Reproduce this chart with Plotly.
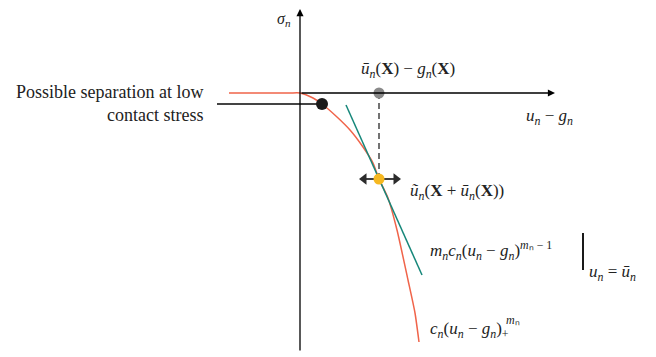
import plotly.graph_objects as go

# contact law curve (x = u_n - g_n, y = sigma_n)
curve_x = [-7.1, -3.5, -1.0, 0.0, 1.3, 2.2, 3.7, 5.0, 6.3, 7.3, 7.9, 8.8, 9.7, 10.8, 11.5, 11.9]
curve_y = [0.0, 0.0, 0.0, 0.0, -0.5, -1.1, -2.4, -3.7, -5.4, -7.0, -8.6, -10.5, -13.7, -18.7, -22.0, -24.9]

# tangent at the current iterate
tangent_x = [4.6, 12.2]
tangent_y = [-1.2, -18.2]

# marked points
sep_pt = (2.2, -1.1)
gap_pt = (7.9, 0.0)
iter_pt = (7.9, -8.6)

RED = "#F0644A"
TEAL = "#16877A"
DARK = "#2b2b2b"
FONT = "Liberation Serif"

fig = go.Figure()

fig.add_trace(go.Scatter(x=curve_x, y=curve_y, mode="lines",
                         line=dict(color=RED, width=1.5, shape="spline", smoothing=0.6)))
fig.add_trace(go.Scatter(x=tangent_x, y=tangent_y, mode="lines",
                         line=dict(color=TEAL, width=1.5)))

# separation leader line
fig.add_trace(go.Scatter(x=[-8.3, sep_pt[0]], y=[sep_pt[1], sep_pt[1]], mode="lines",
                         line=dict(color="#444", width=2)))
# dashed drop from gap point to iterate
fig.add_trace(go.Scatter(x=[gap_pt[0], iter_pt[0]], y=[gap_pt[1], iter_pt[1]], mode="lines",
                         line=dict(color="#444", width=1.5, dash="6px,4px")))

# axes drawn as arrows
ax_kw = dict(xref="x", yref="y", axref="x", ayref="y", showarrow=True, text="",
             arrowhead=2, arrowsize=1.1, arrowwidth=1.3, arrowcolor="black")
fig.add_annotation(x=0, y=8.4, ax=0, ay=-25.9, **ax_kw)
fig.add_annotation(x=25.5, y=0, ax=0, ay=0, **ax_kw)

# horizontal double arrow at the iterate
fig.add_trace(go.Scatter(x=[6.4, 9.6], y=[iter_pt[1], iter_pt[1]], mode="lines",
                         line=dict(color=DARK, width=1.8)))
fig.add_trace(go.Scatter(x=[6.4, 9.6], y=[iter_pt[1], iter_pt[1]], mode="markers",
                         marker=dict(size=10, color=DARK, symbol=["triangle-left", "triangle-right"])))

# points
fig.add_trace(go.Scatter(x=[sep_pt[0]], y=[sep_pt[1]], mode="markers",
                         marker=dict(size=12, color="#1a1a1a")))
fig.add_trace(go.Scatter(x=[gap_pt[0]], y=[gap_pt[1]], mode="markers",
                         marker=dict(size=11, color="#8a8a8a")))
fig.add_trace(go.Scatter(x=[iter_pt[0]], y=[iter_pt[1]], mode="markers",
                         marker=dict(size=11, color="#F6B821")))

# bar for evaluation "at u_n = ū_n"
fig.add_trace(go.Scatter(x=[28.3, 28.3], y=[-14.0, -17.7], mode="lines",
                         line=dict(color="#1a1a1a", width=2)))

txt = dict(xref="x", yref="y", showarrow=False, font=dict(family=FONT, size=17, color="#222"))
fig.add_annotation(x=-1.6, y=8.5, yanchor="top", text="<i>σ</i><sub><i>n</i></sub>",
                   xref="x", yref="y", showarrow=False,
                   font=dict(family=FONT, size=16, color="#222"))
fig.add_annotation(x=10.8, y=2.3,
                   text="<i>ū</i><sub><i>n</i></sub>(<b>X</b>) − <i>g</i><sub><i>n</i></sub>(<b>X</b>)", **txt)
fig.add_annotation(x=24.9, y=-2.4, text="<i>u</i><sub><i>n</i></sub> − <i>g</i><sub><i>n</i></sub>", **txt)
fig.add_annotation(x=-9.5, y=-1.0, xanchor="right", align="right",
                   text="Possible separation at low<br>contact stress",
                   xref="x", yref="y", showarrow=False,
                   font=dict(family=FONT, size=18, color="#222"))
fig.add_annotation(x=10.8, y=-9.9, xanchor="left",
                   text="<i>ũ</i><sub><i>n</i></sub>(<b>X</b> + <i>ū</i><sub><i>n</i></sub>(<b>X</b>))", **txt)
fig.add_annotation(x=12.8, y=-15.7, xanchor="left",
                   text="<i>m</i><sub><i>n</i></sub><i>c</i><sub><i>n</i></sub>(<i>u</i><sub><i>n</i></sub> − <i>g</i><sub><i>n</i></sub>)<sup><i>m</i>ₙ − 1</sup>",
                   **txt)
fig.add_annotation(x=28.7, y=-18.0, xanchor="left",
                   text="<i>u</i><sub><i>n</i></sub> = <i>ū</i><sub><i>n</i></sub>", **txt)
fig.add_annotation(x=12.8, y=-23.7, xanchor="left",
                   text="<i>c</i><sub><i>n</i></sub>(<i>u</i><sub><i>n</i></sub> − <i>g</i><sub><i>n</i></sub>)<sub>+</sub>",
                   **txt)
fig.add_annotation(x=20.4, y=-22.7, xanchor="left", text="<i>m</i>ₙ",
                   xref="x", yref="y", showarrow=False,
                   font=dict(family=FONT, size=12, color="#222"))

# page body has an 8px margin, so the figure is 8px smaller and ranges start there
fig.update_xaxes(range=[-29.2, 35.6], visible=False)
fig.update_yaxes(range=[-26.4, 8.5], visible=False)
fig.update_layout(width=648, height=349, margin=dict(l=0, r=0, t=0, b=0),
                  showlegend=False, plot_bgcolor="white", paper_bgcolor="white")
fig.write_html("out.html")
